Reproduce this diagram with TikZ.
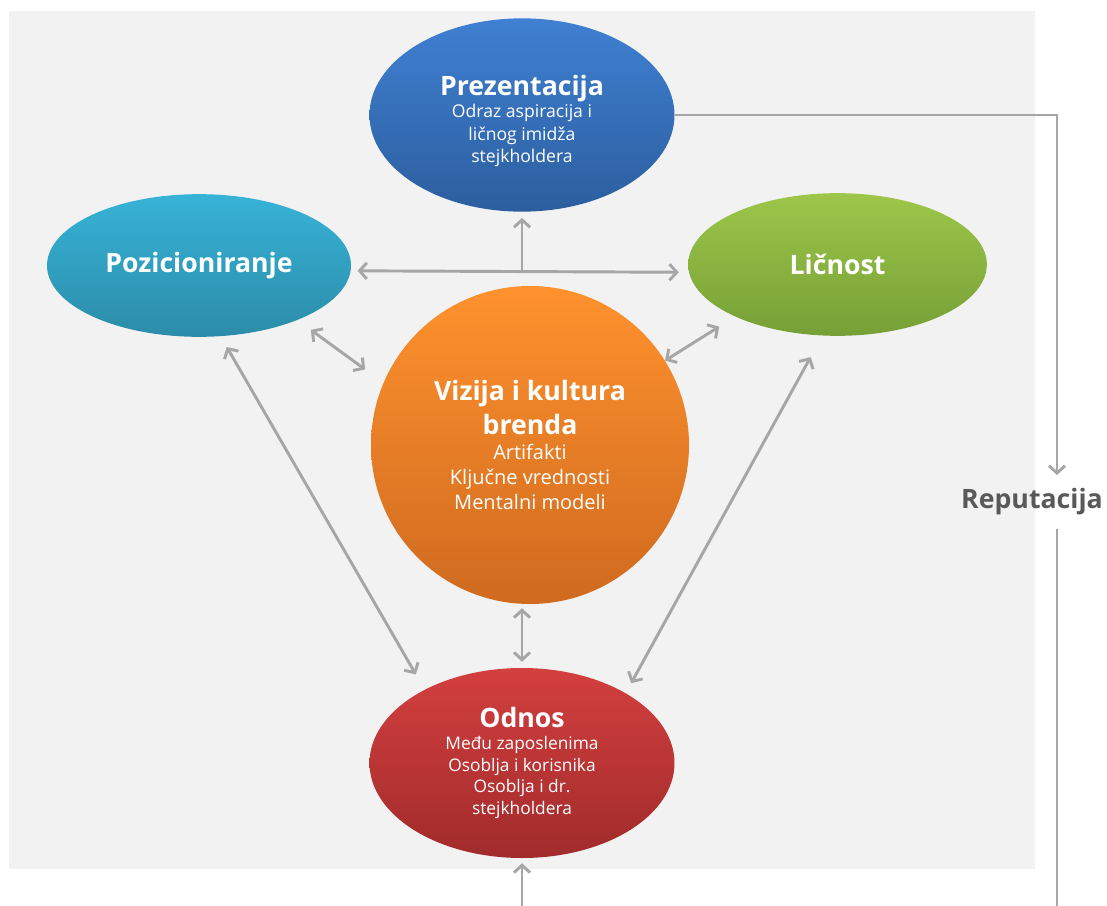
\documentclass[tikz,border=0pt]{standalone}
\usepackage{fontspec}
\setmainfont{Open Sans}
\usetikzlibrary{shapes.geometric,arrows.meta}
\definecolor{bggray}{HTML}{F2F2F2}
\definecolor{linkgray}{HTML}{A6A6A6}
\definecolor{repgray}{HTML}{595959}
\definecolor{prestop}{RGB}{63,128,210}
\definecolor{presbot}{RGB}{44,94,158}
\definecolor{postop}{RGB}{55,179,216}
\definecolor{posbot}{RGB}{43,140,168}
\definecolor{lictop}{RGB}{157,198,74}
\definecolor{licbot}{RGB}{118,160,54}
\definecolor{viztop}{RGB}{255,146,46}
\definecolor{vizbot}{RGB}{207,106,31}
\definecolor{odntop}{RGB}{211,63,63}
\definecolor{odnbot}{RGB}{161,43,43}
\newcommand\ttl{\fontsize{20}{24}\selectfont\bfseries}
\tikzstyle{every node}=[text=white,align=center,inner sep=0pt,font=\fontsize{13.2}{16.8}\selectfont]
\tikzstyle{blob}=[ellipse,minimum width=228.75pt,minimum height=145pt]
\tikzstyle{link}=[draw=linkgray,line width=2.2pt,{Straight Barb[length=5.5pt,width=12pt,line width=2.2pt]}-{Straight Barb[length=5.5pt,width=12pt,line width=2.2pt]}]
\tikzstyle{linkone}=[draw=linkgray,line width=2.2pt,-{Straight Barb[length=5.5pt,width=12pt,line width=2.2pt]}]

\begin{document}
\begin{tikzpicture}[x=0.75pt,y=-0.75pt]
  \useasboundingbox (0,0) rectangle (1107,906);
  \fill[bggray] (9,11) rectangle (1035,869);

  \node[blob,top color=prestop,bottom color=presbot] (pres) at (522,115)
    {\rule{0pt}{24pt}{\ttl Prezentacija}\\ Odraz aspiracija i\\ ličnog imidža\\ stejkholdera};
  \node[blob,minimum width=228pt,minimum height=107pt,top color=postop,bottom color=posbot] (pos) at (199,265.5)
    {\ttl Pozicioniranje};
  \node[blob,minimum width=224pt,minimum height=107pt,top color=lictop,bottom color=licbot] (lic) at (837.5,264.5)
    {\ttl Ličnost};
  \node[circle,minimum size=238.5pt,top color=viztop,bottom color=vizbot,font=\fontsize{15}{18.8}\selectfont] (viz) at (530,445)
    {{\ttl Vizija i kultura}\\[5pt] {\ttl brenda}\\ Artifakti\\ Ključne vrednosti\\ Mentalni modeli};
  \node[blob,minimum height=142.5pt,top color=odntop,bottom color=odnbot,font=\fontsize{13}{16.3}\selectfont] (odn) at (522,763)
    {{\ttl Odnos}\\ Među zaposlenima\\ Osoblja i korisnika\\ Osoblja i dr.\\ stejkholdera};
  \node[text=repgray,font=\ttl] (rep) at (1032,502) {Reputacija};
  \coordinate (hub) at (522,272);
  \coordinate (bot) at (522,906);
  \coordinate (repout) at (1057,906);

  \draw[link,shorten <=5pt,shorten >=7.5pt] (pos.-2) -- (lic.183);
  \draw[linkone,shorten >=4.5pt] (hub) -- (pres.south);
  \draw[link,shorten <=12.4pt,shorten >=16.9pt] (pos.-29) -- (viz.157);
  \draw[link,shorten <=14.1pt] (lic.207) -- (viz.32);
  \draw[link,shorten <=9.2pt,shorten >=13.2pt] (pos.-73) -- (odn.143.5);
  \draw[link,shorten <=18.3pt,shorten >=8.4pt] (lic.-102) -- (odn.34);
  \draw[link,shorten <=4.5pt,shorten >=3pt] (odn.north) -- (odn.north |- viz.south);
  \draw[linkone,shorten >=3.75pt] (bot) -- (odn.south);
  \draw[linkone,shorten >=10pt] (pres.east) -| (repout |- rep.north);
  \draw[draw=linkgray,line width=2.2pt,shorten <=10pt] (repout |- rep.south) -- (repout);
\end{tikzpicture}
\end{document}
